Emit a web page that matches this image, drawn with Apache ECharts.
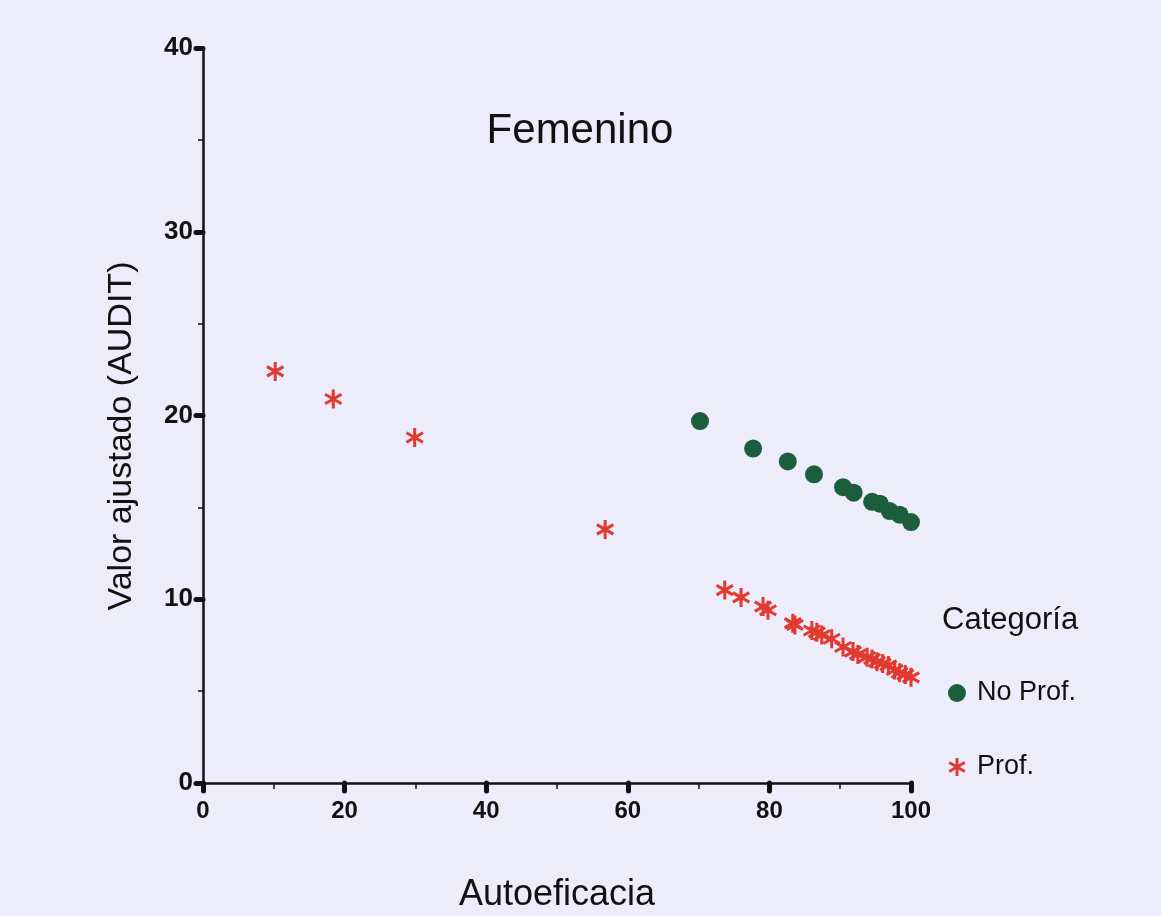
<!DOCTYPE html>
<html>
<head>
<meta charset="utf-8">
<script src="https://cdn.jsdelivr.net/npm/echarts@6/dist/echarts.min.js"></script>
<style>
html,body{margin:0;padding:0;background:#ececfa;}
#chart{width:1161px;height:916px;}
</style>
</head>
<body>
<div id="chart"></div>
<script>
// Data
var noProfX = [70.2, 77.7, 82.6, 86.3, 90.4, 91.9, 94.5, 95.6, 97.0, 98.4, 100];
var noProfY = [19.7, 18.2, 17.5, 16.8, 16.1, 15.8, 15.3, 15.2, 14.8, 14.6, 14.2];
var profX = [10.2, 18.4, 29.9, 56.8, 73.7, 76.0, 79.1, 79.8, 83.3, 83.6, 86.0, 86.7, 87.4, 88.8, 90.4, 91.8, 92.5, 93.8, 94.5, 95.2, 96.0, 96.8, 97.7, 98.4, 99.2, 100];
var profY = [22.4, 20.9, 18.8, 13.8, 10.5, 10.1, 9.6, 9.4, 8.7, 8.6, 8.3, 8.2, 8.05, 7.85, 7.4, 7.15, 7.0, 6.85, 6.75, 6.6, 6.5, 6.4, 6.15, 6.0, 5.9, 5.75];
var seriesNames = ['No Prof.', 'Prof.'];
var xTicks = [0, 20, 40, 60, 80, 100];
var yTicks = [0, 10, 20, 30, 40];

function zip(a, b) { return a.map(function (v, i) { return [v, b[i]]; }); }

var asterisk = 'path://M-0.16,-1L0.16,-1L0.16,1L-0.16,1Z' +
  'M-0.786,-0.639L0.946,0.361L0.786,0.639L-0.946,-0.361Z' +
  'M-0.946,0.361L0.786,-0.639L0.946,-0.361L-0.786,0.639Z';

var FONT = '"Liberation Sans", Arial, sans-serif';
var chart = echarts.init(document.getElementById('chart'), null, {renderer: 'canvas'});
chart.setOption({
  backgroundColor: '#ececfa',
  animation: false,
  grid: {left: 203, right: 250, top: 48, bottom: 133, containLabel: false, outerBoundsMode: 'none'},
  xAxis: {
    type: 'value', min: 0, max: 100, interval: 20,
    name: 'Autoeficacia', nameLocation: 'middle', nameGap: 94,
    nameTextStyle: {fontFamily: FONT, fontSize: 36, color: '#111'},
    axisLine: {show: true, lineStyle: {color: '#111', width: 2.5}},
    axisTick: {show: true, length: 8, lineStyle: {color: '#111', width: 5, cap: 'round'}},
    minorTick: {show: true, splitNumber: 2, length: 6, lineStyle: {color: '#111', width: 1.5}},
    axisLabel: {fontFamily: FONT, fontSize: 24, fontWeight: 'bold', color: '#111', margin: 16,
      formatter: function (v) { return xTicks.indexOf(v) >= 0 ? String(v) : ''; }},
    splitLine: {show: false}
  },
  yAxis: {
    type: 'value', min: 0, max: 40, interval: 10,
    axisLine: {show: true, lineStyle: {color: '#111', width: 2.5}},
    axisTick: {show: true, length: 7, lineStyle: {color: '#111', width: 5, cap: 'round'}},
    minorTick: {show: true, splitNumber: 2, length: 5, lineStyle: {color: '#111', width: 1.5}},
    axisLabel: {fontFamily: FONT, fontSize: 26, fontWeight: 'bold', color: '#111', margin: 10,
      formatter: function (v) { return yTicks.indexOf(v) >= 0 ? String(v) : ''; }},
    splitLine: {show: false}
  },
  legend: {
    orient: 'vertical', left: 943, top: 673, itemGap: 44,
    itemWidth: 18, itemHeight: 18,
    textStyle: {fontFamily: FONT, fontSize: 27, color: '#111', lineHeight: 30, padding: [0, 0, 0, 6]},
    data: [
      {name: seriesNames[0], icon: 'circle'},
      {name: seriesNames[1], icon: asterisk}
    ]
  },
  graphic: [
    {type: 'text', x: 580, y: 131, style: {text: 'Femenino', font: '42px ' + FONT, fill: '#111', textAlign: 'center', textVerticalAlign: 'middle'}},
    {type: 'text', x: 122, y: 436, rotation: Math.PI / 2, style: {text: 'Valor ajustado (AUDIT)', font: '34px ' + FONT, fill: '#111', textAlign: 'center', textVerticalAlign: 'middle'}},
    {type: 'text', x: 942, y: 620, style: {text: 'Categoría', font: '31px ' + FONT, fill: '#111', textAlign: 'left', textVerticalAlign: 'middle'}}
  ],
  series: [
    {
      name: seriesNames[0], type: 'scatter', symbol: 'circle', symbolSize: 18,
      itemStyle: {color: '#1b5e3d', opacity: 1},
      data: zip(noProfX, noProfY), z: 3
    },
    {
      name: seriesNames[1], type: 'scatter', symbol: asterisk, symbolSize: [18, 19],
      itemStyle: {color: '#e23a30', opacity: 1},
      data: zip(profX, profY), z: 4
    }
  ]
});
</script>
</body>
</html>
